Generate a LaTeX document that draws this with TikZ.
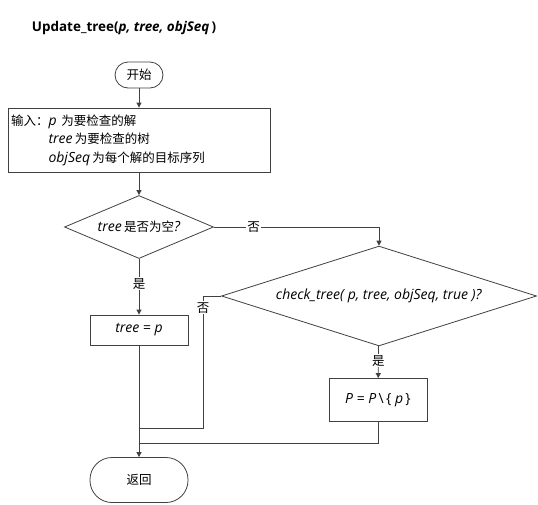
\documentclass[tikz,border=0pt]{standalone}
\usepackage{fontspec}
\setmainfont{Open Sans}[Scale=1.12]
\newfontfamily\cjk{Noto Sans CJK SC}
\usetikzlibrary{arrows.meta,shapes.geometric}
\newcommand{\zh}[1]{{\cjk #1}}

\begin{document}
\begin{tikzpicture}[
    x=1pt, y=-1pt,
    >={Triangle[length=5pt,width=5pt]},
    font=\fontsize{12.5}{15}\selectfont,
    every node/.style={text=black},
    flow/.style={draw=black!75,line width=0.8pt},
    link/.style={flow,->},
    terminal/.style={flow,rounded corners=13pt,minimum width=48pt,minimum height=26pt,inner sep=1pt},
    procbox/.style={flow,minimum width=98pt,minimum height=30pt,inner sep=1pt},
    decide/.style={flow,diamond,inner sep=0pt,aspect=2.4},
    tag/.style={fill=white,inner sep=1pt},
  ]
  \useasboundingbox (0,0) rectangle (538,504);

  % --- title ---
  \node[anchor=west,font=\fontsize{12}{14}\selectfont\bfseries] (title) at (28,28)
    {Update\_tree(\textit{p, tree, objSeq}\,)};

  % --- start and input ---
  \node[terminal] (start) at (139,75) {\zh{开始}};
  \node[flow,minimum width=262pt,minimum height=64pt,text width=256pt,align=left,
        inner sep=3pt,font=\fontsize{12.5}{18.5}\selectfont] (input) at (139,140)
    {\zh{输入：}\textit{p}\,\,\zh{为要检查的解}\\
     \hphantom{\zh{输入：}}\textit{tree}\,\zh{为要检查的树}\\
     \hphantom{\zh{输入：}}\textit{objSeq}\,\zh{为每个解的目标序列}};
  \draw[link] (start) -- (input);

  % --- first test ---
  \node[decide,minimum width=149pt,minimum height=63pt] (empty) at (139,227)
    {\textit{tree}\,\zh{是否为空}\textit{?}};
  \draw[link] (input) -- (empty);

  \node[procbox] (settree) at (139,330) {\textit{tree} = \textit{p}};
  \draw[link] (empty) -- node[tag,pos=0.45] (yes1) {\zh{是}} (settree);

  % --- second test ---
  \node[decide,minimum width=315pt,minimum height=77pt] (check) at (379,296)
    {\textit{check\_tree( p, tree, objSeq, true )?}};
  \coordinate (c1) at (379,227);
  \draw[link] (empty.east) -- node[tag,pos=0.24] (no1) {\zh{否}} (c1) -- (check.north);

  \node[procbox,minimum height=43pt] (remove) at (378,400)
    {\textit{P} = \textit{P}\,\textbackslash\,\{ \textit{p}\,\}};
  \draw[link] (check) -- node[tag,pos=0.45] (yes2) {\zh{是}} (remove);

  % --- return ---
  \node[terminal,rounded corners=22pt,minimum width=98pt,minimum height=45pt] (ret) at (139,480) {\zh{返回}};
  \draw[link] (settree) -- (ret);

  \coordinate (c2) at (203,296);
  \coordinate (c3) at (203,428);
  \coordinate (m1) at (139,428);
  \draw[flow] (check.west) -- (c2) -- node[tag,pos=0.09] (no2) {\zh{否}} (c3) -- (m1);

  \coordinate (c4) at (378,443);
  \coordinate (m2) at (139,443);
  \draw[flow] (remove.south) -- (c4) -- (m2);

\end{tikzpicture}
\end{document}
